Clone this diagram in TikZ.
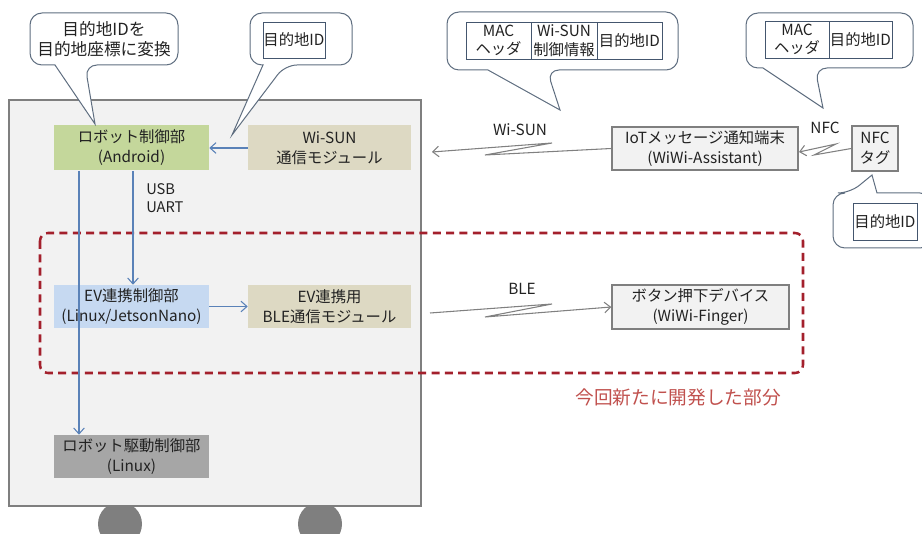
\documentclass[tikz,border=0pt]{standalone}
\usepackage{fontspec}
\setmainfont{Noto Sans CJK JP}
\usetikzlibrary{arrows.meta,calc}
\definecolor{bodyfill}{HTML}{F2F2F2}
\definecolor{bodyline}{HTML}{7F7F7F}
\definecolor{wheelc}{HTML}{7F7F7F}
\definecolor{greenc}{HTML}{C4D79B}
\definecolor{tanc}{HTML}{DDD9C3}
\definecolor{bluec}{HTML}{C6D9F1}
\definecolor{grayc}{HTML}{A6A6A6}
\definecolor{arrowblue}{HTML}{5A82B8}
\definecolor{arrowgray}{HTML}{808080}
\definecolor{dashred}{HTML}{A3202C}
\definecolor{textred}{HTML}{C0504D}
\definecolor{calloutc}{HTML}{5F6E80}
\definecolor{fieldc}{HTML}{44566E}
\definecolor{txt}{HTML}{222222}
\begin{document}
\begin{tikzpicture}[x=0.75pt,y=-0.75pt,
  every node/.style={text=txt},
  comp/.style={inner sep=0pt, align=center, font=\fontsize{11.5}{15}\selectfont},
  device/.style={comp, fill=bodyfill, draw=bodyline, line width=1.1pt},
  callout/.style={draw=calloutc, fill=white, line width=0.75pt},
  field/.style={draw=fieldc, fill=white, line width=0.6pt, inner sep=0pt, align=center, font=\fontsize{11.5}{14}\selectfont},
  bluearrow/.style={draw=arrowblue, line width=0.8pt, -{Straight Barb[length=4.5pt,width=8pt]}},
  grayarrow/.style={draw=arrowgray, line width=0.8pt, -{Straight Barb[length=4.5pt,width=8pt]}},
  lbl/.style={inner sep=0pt, font=\fontsize{11.5}{14}\selectfont}
]
\useasboundingbox (0,0) rectangle (922,534);
\clip (0,0) rectangle (922,534);

% wheels
\fill[wheelc] (120,524) circle[radius=16.5pt];
\fill[wheelc] (320,524) circle[radius=16.5pt];

% robot body
\node[draw=bodyline, fill=bodyfill, line width=1.5pt, inner sep=0pt,
      minimum width=309pt, minimum height=304.5pt] (robot) at (215,303) {};

% dashed region
\draw[dashred, line width=1.9pt, dash pattern=on 6pt off 4pt, rounded corners=6pt]
  (40,233) rectangle (803,373);
\node[inner sep=0pt, text=textred, font=\fontsize{14}{16}\selectfont] (newlbl) at (678,397) {今回新たに開発した部分};

% components
\node[comp, fill=greenc, minimum width=116.25pt, minimum height=33.75pt] (rc) at (131.5,148) {ロボット制御部\\(Android)};
\node[comp, fill=tanc, minimum width=122.25pt, minimum height=33.75pt] (wsm) at (329.5,148) {Wi-SUN\\通信モジュール};
\node[comp, fill=bluec, minimum width=116.25pt, minimum height=32.25pt] (evc) at (131.5,306.5) {EV連携制御部\\(Linux/JetsonNano)};
\node[comp, fill=tanc, minimum width=122.25pt, minimum height=32.25pt] (ble) at (329.5,306.5) {EV連携用\\BLE通信モジュール};
\node[comp, fill=grayc, minimum width=116.25pt, minimum height=32.25pt] (rd) at (131.5,456.5) {ロボット駆動制御部\\(Linux)};

% external devices
\node[device, minimum width=139.5pt, minimum height=32.25pt] (iot) at (705,148.5) {IoTメッセージ通知端末\\(WiWi-Assistant)};
\node[device, minimum width=34.5pt, minimum height=33.75pt] (nfc) at (875,148.5) {NFC\\タグ};
\node[device, minimum width=132.75pt, minimum height=33pt] (btn) at (700.5,307) {ボタン押下デバイス\\(WiWi-Finger)};

% internal connectors
\draw[bluearrow] (wsm.west) -- (rc.east);
\draw[bluearrow] ($(rc.south)+(1.5,0)$) -- ($(evc.north)+(1.5,0)$);
\draw[bluearrow] ($(rc.south)+(-52.5,0)$) -- ($(rd.north)+(-52.5,0)$);
\draw[bluearrow] (evc.east) -- (ble.west);
\node[lbl, anchor=west, align=left, font=\fontsize{11}{13}\selectfont] (usb) at (146,198) {USB\\UART};

% wireless links
\coordinate (wsend) at (432,152);
\draw[grayarrow] (iot.west) -- (485,155) -- (552,143) -- (wsend);
\node[lbl] (wslbl) at (520,130) {Wi-SUN};
\coordinate (nfcend) at (799,152);
\draw[grayarrow] (nfc.west) -- (814,155) -- (836,144) -- (nfcend);
\node[lbl] (nfclbl) at (825,128) {NFC};
\coordinate (blestart) at (430,313);
\draw[grayarrow] (blestart) -- (552,304) -- (485,317) -- (btn.west);
\node[lbl] (blelbl) at (522,289) {BLE};

% callout 1
\draw[callout] (104,13) [rounded corners=9pt] -- (178,13) -- (178,65) -- (85,65) [sharp corners] -- (95,124) -- (55,65) [rounded corners=9pt] -- (30,65) -- (30,13) -- cycle;
\node[inner sep=0pt, align=center, font=\fontsize{12.5}{15}\selectfont] (c1) at (104,39) {目的地IDを\\目的地座標に変換};

% callout 2
\draw[callout] (301,13) [rounded corners=9pt] -- (352,13) -- (352,65) -- (285,65) [sharp corners] -- (232,135) -- (263,65) [rounded corners=9pt] -- (250,65) -- (250,13) -- cycle;
\node[field, minimum width=46.5pt, minimum height=27pt] (c2a) at (294,40) {目的地ID};

% callout 3
\draw[callout] (560,12) [rounded corners=9pt] -- (678,12) -- (678,70) -- (547,70) [sharp corners] -- (560,110) -- (488,70) [rounded corners=9pt] -- (447,70) -- (447,12) -- cycle;
\node[field, minimum width=48.75pt, minimum height=27.75pt] (c3a) at (498.5,40.5) {MAC\\ヘッダ};
\node[field, minimum width=49.5pt, minimum height=27.75pt] (c3b) at (564,40.5) {Wi-SUN\\制御情報};
\node[field, minimum width=48.75pt, minimum height=27.75pt] (c3c) at (629.5,40.5) {目的地ID};

% callout 4
\draw[callout] (830,13) [rounded corners=9pt] -- (913,13) -- (913,68) -- (815,68) [sharp corners] -- (823,108) -- (763,68) [rounded corners=9pt] -- (746,68) -- (746,13) -- cycle;
\node[field, minimum width=48pt, minimum height=27.75pt] (c4a) at (797,39.5) {MAC\\ヘッダ};
\node[field, minimum width=47.25pt, minimum height=27.75pt] (c4b) at (860.5,39.5) {目的地ID};

% callout 5
\draw[callout] (880,248) [rounded corners=9pt] -- (833,248) -- (833,193) -- (850,193) [sharp corners] -- (872,175) -- (877,193) [rounded corners=9pt] -- (932,193) -- (932,248) -- cycle;
\node[field, minimum width=48pt, minimum height=27.75pt] (c5a) at (885,221.5) {目的地ID};
\end{tikzpicture}
\end{document}
